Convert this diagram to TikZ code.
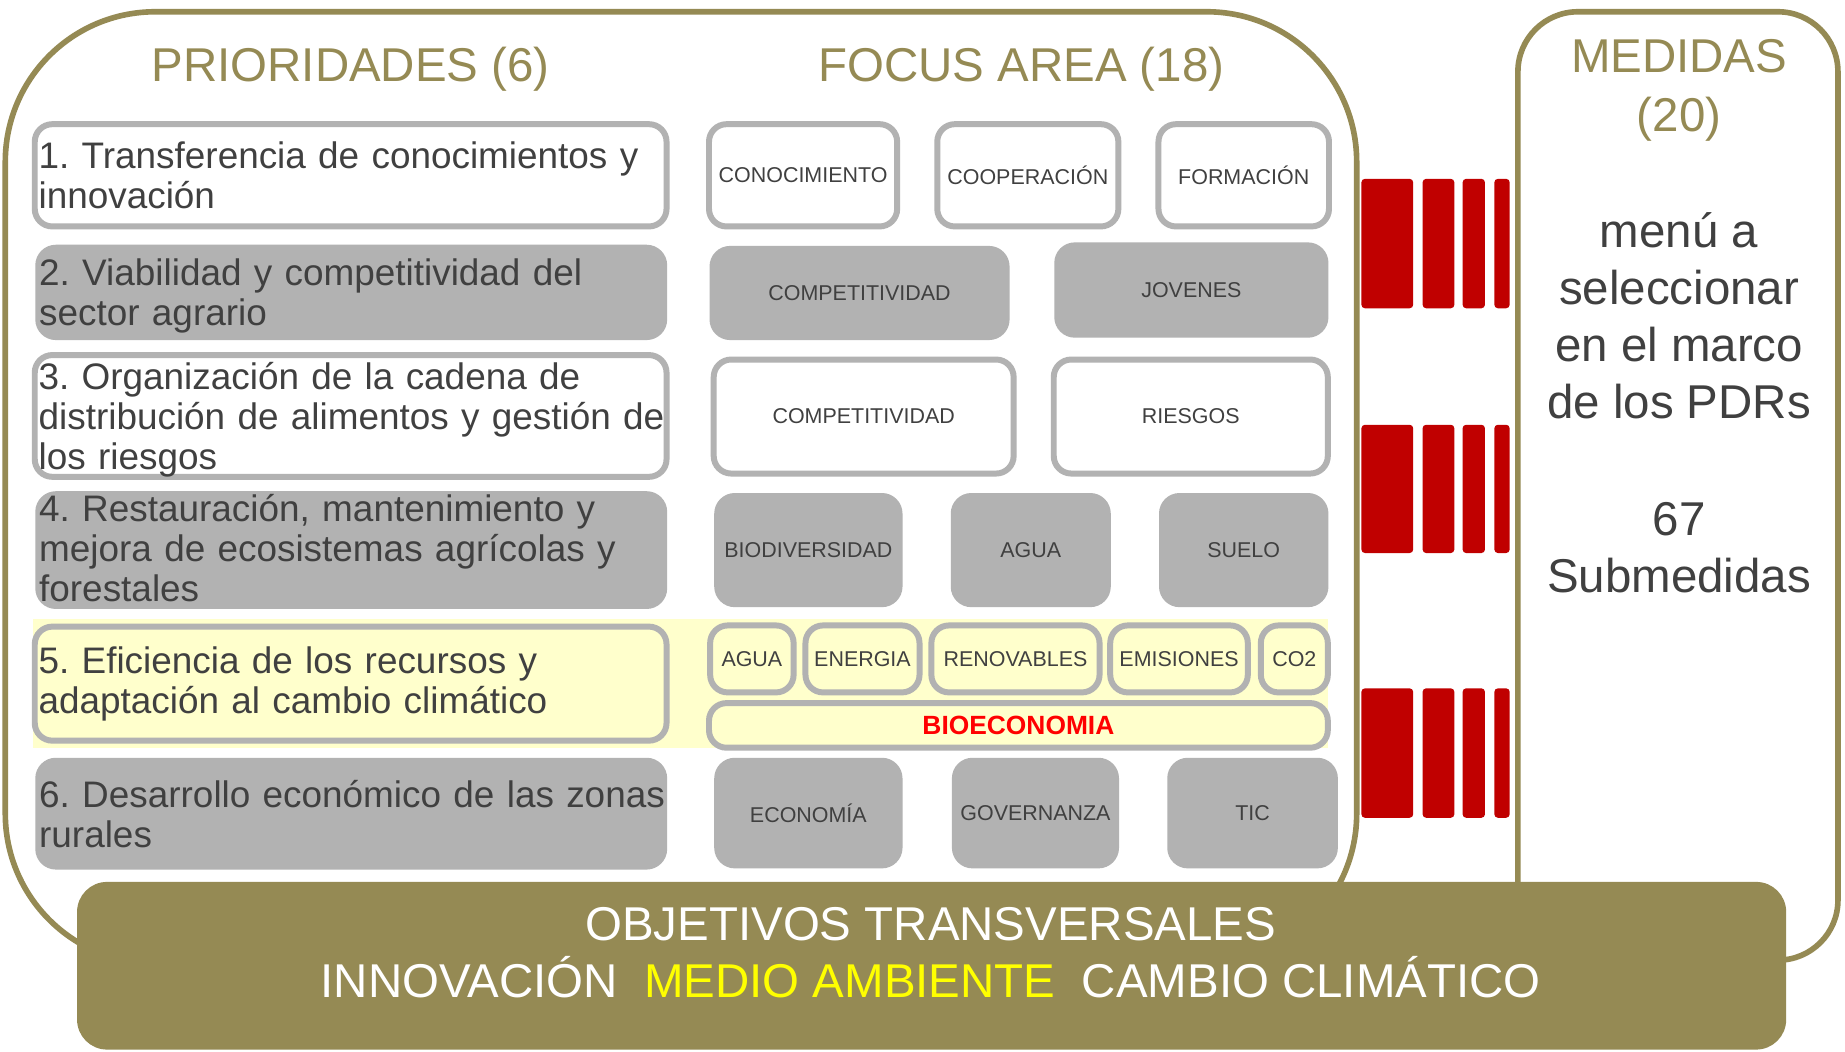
\documentclass[tikz,border=0pt]{standalone}
\usepackage{fontspec}
\setmainfont{Liberation Sans}
\usetikzlibrary{positioning}

\definecolor{oliva}{HTML}{958A54}
\definecolor{gris}{HTML}{B2B2B2}
\definecolor{textogris}{HTML}{404040}
\definecolor{rojomedida}{HTML}{C00000}
\definecolor{amarillo}{HTML}{FFFFCC}
\definecolor{rojobio}{HTML}{FF0000}
\definecolor{amarillotxt}{HTML}{FFFF00}

\newcommand{\pu}{0.011767cm}
% caja: estilo, nombre, esquina sup. izq. (x,y), esquina inf. der. (x,y), texto
\newcommand{\caja}[7]{%
  \node[#1, minimum width={(#5-#3)*\pu-1.7pt}, minimum height={(#6-#4)*\pu-1.7pt}]
    (#2) at ({(#3+#5)/2},{(#4+#6)/2}) {#7};}
\newcommand{\linea}[1]{\mbox{#1}}
\newcommand{\alto}{\rule{0pt}{9.7pt}}
\newcommand{\bajo}{\rule[-1.3pt]{0pt}{0pt}}

\tikzset{
  marco/.style={draw=oliva, line width=1.6pt},
  caja/.style={rounded corners=5pt, line width=1.7pt, inner sep=0pt, draw=gris},
  blanca/.style={caja, fill=white},
  llena/.style={caja, fill=gris},
  amarilla/.style={caja, fill=amarillo},
  prior/.style={text=textogris, font=\fontsize{10.5}{11.38}\selectfont, align=left, text width=6.24cm},
  foco/.style={text=textogris, font=\fontsize{6.1}{7}\selectfont, align=center},
  titulo/.style={text=oliva, font=\fontsize{13.5}{16.7}\selectfont, align=center},
  cuerpo/.style={text=textogris, font=\fontsize{13.5}{16.2}\selectfont, align=center}
}

\begin{document}
\frenchspacing
\begin{tikzpicture}[x=\pu, y=-\pu]
    \fill[white] (0,0) rectangle (1568,894);
    \useasboundingbox (0,0) rectangle (1568,894);

    % marcos
    \draw[marco, rounded corners=1.5cm] (4.5,10) rectangle (1153,819);
    \draw[marco, rounded corners=0.6cm] (1290,10) rectangle (1562,816);
    \fill[amarillo] (28,526) rectangle (1129,636);

    \node[titulo, anchor=base] (tprior) at (298,69.5) {PRIORIDADES (6)};
    \node[titulo, anchor=base] (tfocus) at (868,69.5) {FOCUS AREA (18)};

    % prioridades
    \caja{blanca, prior}{p1}{27}{103}{569}{195}{\linea{1. Transferencia de conocimientos y}\\\linea{innovación}}
    \caja{llena, prior}{p2}{30}{208}{567}{289}{\linea{\alto 2. Viabilidad y competitividad del}\\\linea{sector agrario}}
    \caja{blanca, prior}{p3}{27}{302}{569}{405}{\linea{\alto 3. Organización de la cadena de}\\\linea{distribución de alimentos y gestión de}\\\linea{los riesgos}}
    \caja{llena, prior}{p4}{30}{419}{567}{516}{\linea{4. Restauración, mantenimiento y}\\\linea{mejora de ecosistemas agrícolas y}\\\linea{forestales\bajo}}
    \caja{amarilla, prior}{p5}{27}{530}{569}{632}{\linea{5. Eficiencia de los recursos y}\\\linea{adaptación al cambio climático}}
    \caja{llena, prior}{p6}{30}{644}{567}{739}{\linea{6. Desarrollo económico de las zonas}\\\linea{rurales}}

    % focus areas
    \caja{blanca, foco}{conoc}{600}{103}{765}{195}{CONOCIMIENTO}
    \caja{blanca, foco}{coop}{794}{103}{953}{195}{COOPERACIÓN}
    \caja{blanca, foco}{form}{982}{103}{1132}{195}{FORMACIÓN}
    \caja{llena, foco}{compa}{603}{209}{858}{289}{COMPETITIVIDAD}
    \caja{llena, foco}{jov}{896}{206}{1129}{287}{JOVENES}
    \caja{blanca, foco}{compb}{604}{303}{864}{405}{COMPETITIVIDAD}
    \caja{blanca, foco}{riesg}{893}{303}{1131}{405}{RIESGOS}
    \caja{llena, foco}{biod}{607}{419}{767}{516}{BIODIVERSIDAD}
    \caja{llena, foco}{aguaa}{808}{419}{944}{516}{AGUA}
    \caja{llena, foco}{suelo}{985}{419}{1129}{516}{SUELO}
    \caja{amarilla, foco}{aguab}{601}{529}{677}{591}{AGUA}
    \caja{amarilla, foco}{energ}{682}{529}{784}{591}{ENERGIA}
    \caja{amarilla, foco}{renov}{789}{529}{937}{591}{RENOVABLES}
    \caja{amarilla, foco}{emis}{941}{529}{1063}{591}{EMISIONES}
    \caja{amarilla, foco}{cotwo}{1069}{529}{1131}{591}{CO2}
    \caja{amarilla, text=rojobio, font=\fontsize{7.5}{9}\selectfont\bfseries}{bioec}{600}{595}{1131}{638}{BIOECONOMIA}
    \caja{llena, foco}{econ}{607}{644}{767}{738}{ECONOMÍA}
    \caja{llena, foco}{gov}{809}{644}{951}{738}{GOVERNANZA}
    \caja{llena, foco}{tic}{992}{644}{1137}{738}{TIC}

    % barras de medidas
    \foreach \ya/\yb in {152/262, 361/470, 585/695}
      \foreach \xa/\xb in {1157/1201, 1209/1236, 1243/1262, 1270/1283}
        \fill[rojomedida, rounded corners=1pt] (\xa,\ya) rectangle (\xb,\yb);

    % medidas
    \node[titulo] (tmed) at (1427,77) {MEDIDAS\\(20)};
    \node[cuerpo] (menu) at (1427,268.5) {menú a\\seleccionar\\en el marco\\de los PDRs};
    \node[cuerpo, font=\fontsize{13.5}{16.4}\selectfont] (subm) at (1427,465.5) {67\\Submedidas};

    % objetivos transversales
    \fill[oliva, rounded corners=0.3cm] (65.5,749.5) rectangle (1518,892);
    \node[text=white, font=\fontsize{13.5}{16.05}\selectfont, align=center] (obj) at (791,809.5)
      {OBJETIVOS TRANSVERSALES\\INNOVACIÓN~~\textcolor{amarillotxt}{MEDIO AMBIENTE}~~CAMBIO CLIMÁTICO};
\end{tikzpicture}
\end{document}
